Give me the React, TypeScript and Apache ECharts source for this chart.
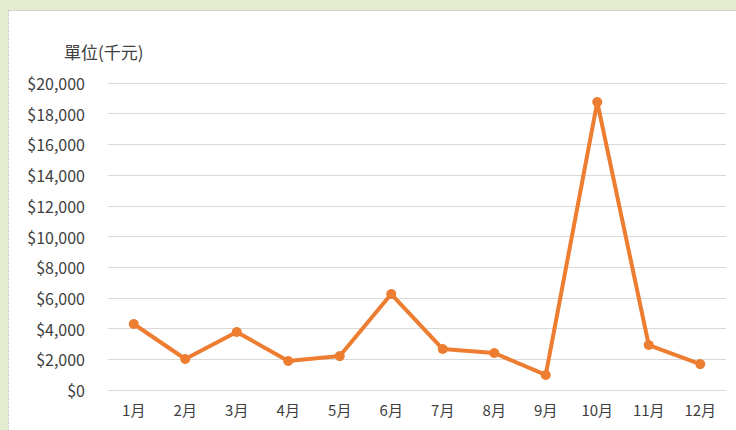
import React, { useEffect, useRef } from "react";
import * as echarts from "echarts";

const months = ["1月", "2月", "3月", "4月", "5月", "6月", "7月", "8月", "9月", "10月", "11月", "12月"];
const values = [4300, 2020, 3780, 1890, 2210, 6250, 2670, 2410, 980, 18760, 2930, 1690];
const unitLabel = "單位(千元)";

export default function App() {
  const ref = useRef<HTMLDivElement>(null);
  useEffect(() => {
    if (!ref.current) return;
    const chart = echarts.init(ref.current, null, { renderer: "svg" });
    const font = "'Noto Sans CJK TC', 'Noto Sans', sans-serif";
    chart.setOption({
      animation: false,
      textStyle: { fontFamily: font },
      title: {
        text: unitLabel,
        left: 59,
        top: 38,
        textStyle: { fontSize: 17, fontWeight: "normal", color: "#404040", fontFamily: font },
      },
      grid: { left: 108, right: 10, top: 83, bottom: 40, containLabel: false },
      xAxis: {
        type: "category",
        data: months,
        boundaryGap: true,
        axisLine: { show: true, lineStyle: { color: "#d9d9d9", width: 1 } },
        axisTick: { show: false },
        axisLabel: { color: "#404040", fontSize: 15, margin: 12, fontFamily: font },
      },
      yAxis: {
        type: "value",
        min: 0,
        max: 20000,
        interval: 2000,
        axisLine: { show: false },
        axisTick: { show: false },
        splitLine: { lineStyle: { color: "#d9d9d9", width: 1 } },
        axisLabel: {
          color: "#404040",
          fontSize: 16,
          margin: 23,
          fontFamily: font,
          formatter: (v: number) => "$" + v.toLocaleString("en-US"),
        },
      },
      series: [
        {
          type: "line",
          data: values,
          symbol: "circle",
          symbolSize: 10,
          lineStyle: { color: "#ED7D31", width: 4 },
          itemStyle: { color: "#ED7D31" },
        },
      ],
    });
    return () => chart.dispose();
  }, []);
  return (
    <div style={{ position: "fixed", left: 0, top: 0, width: 736, height: 430, background: "#e5edcf" }}>
      <div
        style={{
          position: "absolute",
          left: 8,
          top: 10,
          width: 728,
          height: 420,
          background: "#ffffff",
          borderTop: "1px solid #d4d4d4",
          borderLeft: "1px dotted #bdbdbd",
          boxSizing: "border-box",
        }}
      />
      <div ref={ref} style={{ position: "absolute", left: 0, top: 0, width: 736, height: 430 }} />
    </div>
  );
}
